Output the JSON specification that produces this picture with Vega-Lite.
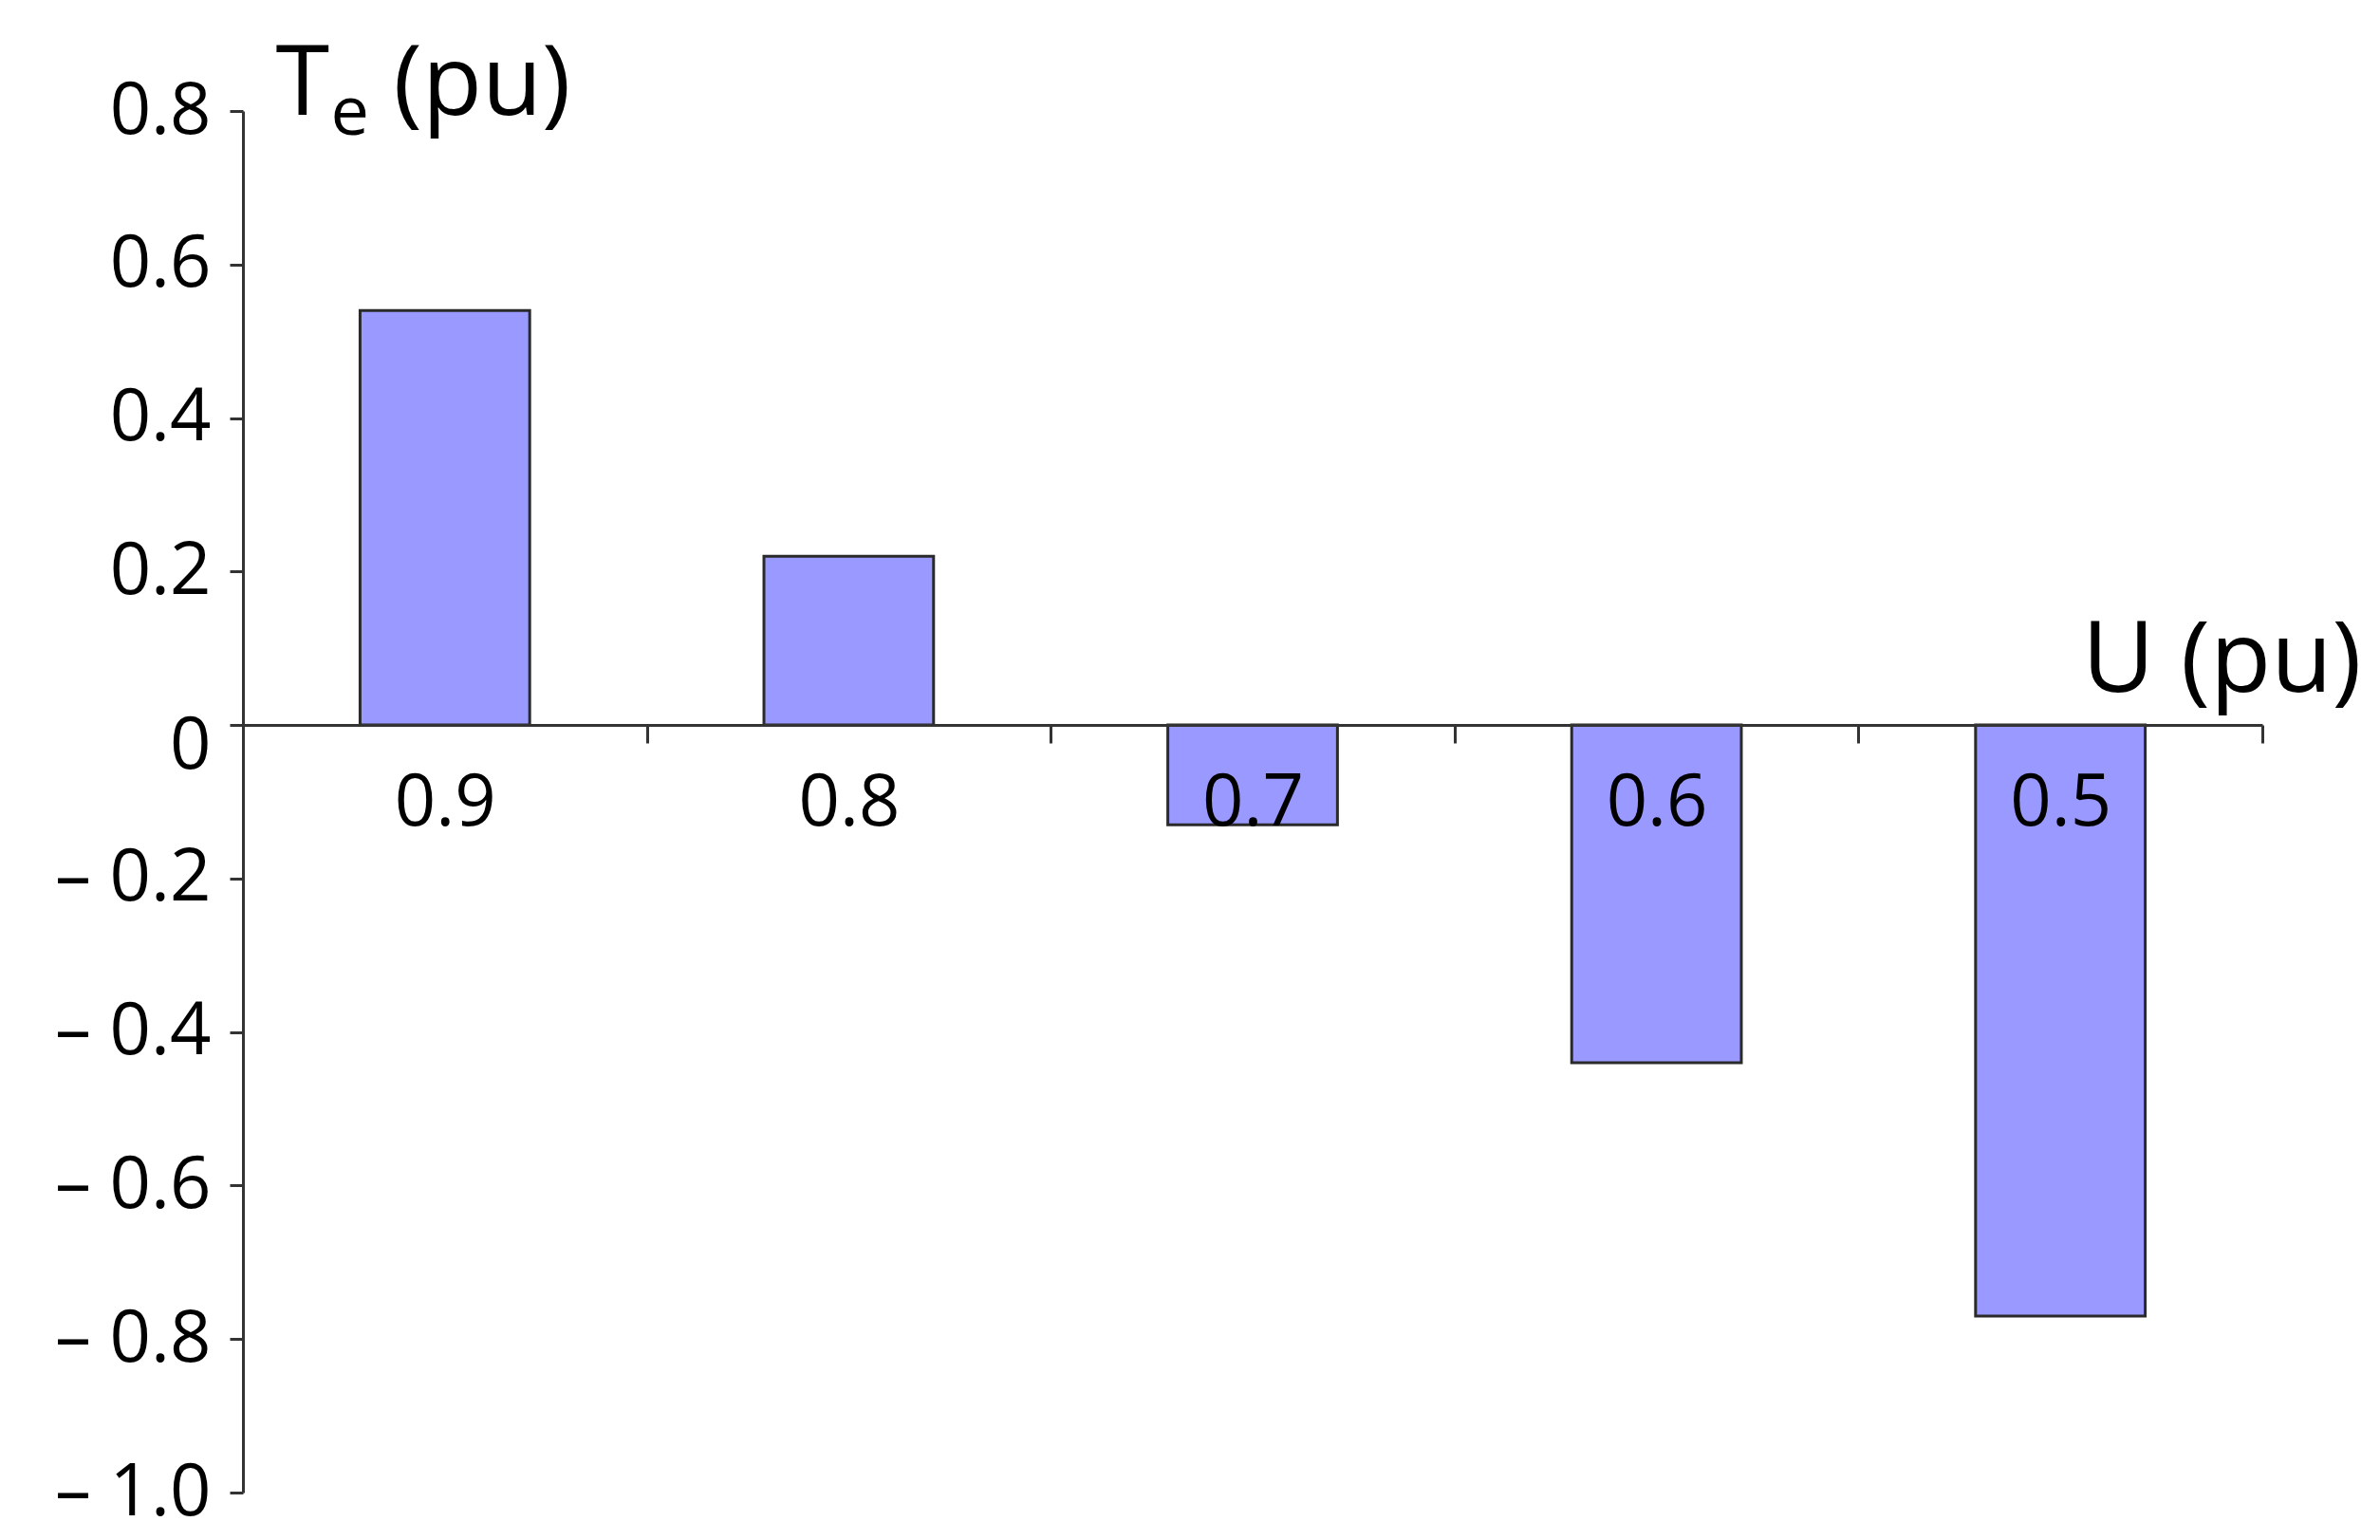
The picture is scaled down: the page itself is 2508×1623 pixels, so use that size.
{
  "$schema": "https://vega.github.io/schema/vega-lite/v6.json",
  "autosize": {"type": "none"},
  "padding": {"left": 256, "top": 117, "right": 124, "bottom": 50},
  "width": 2128,
  "height": 1456,
  "background": "white",
  "config": {"view": {"stroke": null}, "font": "Open Sans"},
  "data": {
    "values": [
      {"U": "0.9", "Te": 0.54},
      {"U": "0.8", "Te": 0.22},
      {"U": "0.7", "Te": -0.13},
      {"U": "0.6", "Te": -0.44},
      {"U": "0.5", "Te": -0.77}
    ]
  },
  "resolve": {"axis": {"x": "independent", "y": "independent"}},
  "layer": [
    {
      "mark": {"type": "bar", "fill": "#9999FF", "stroke": "#2a2a2a", "strokeWidth": 3, "width": {"band": 0.42}},
      "encoding": {
        "x": {
          "field": "U",
          "type": "nominal",
          "sort": ["0.9", "0.8", "0.7", "0.6", "0.5"],
          "scale": {"paddingInner": 0, "paddingOuter": 0},
          "axis": {
            "orient": "bottom",
            "offset": -809,
            "zindex": 1,
            "title": "U (pu)",
            "titleFont": "Open Sans",
            "titleFontSize": 105,
            "titleFontWeight": "normal",
            "titleColor": "black",
            "titleAlign": "right",
            "titleBaseline": "alphabetic",
            "titleAnchor": null,
            "titleX": 2232,
            "titleY": -36,
            "labelAngle": 0,
            "labelFont": "Open Sans",
            "labelFontSize": 76,
            "labelColor": "black",
            "labelPadding": 26,
            "tickBand": "extent",
            "tickSize": 19,
            "tickWidth": 3,
            "tickColor": "#333333",
            "domainColor": "#333333",
            "domainWidth": 3,
            "grid": false
          }
        },
        "y": {
          "field": "Te",
          "type": "quantitative",
          "scale": {"domain": [-1.0, 0.8], "nice": false},
          "axis": {
            "orient": "left",
            "values": [-1.0, -0.8, -0.6, -0.4, -0.2, 0, 0.2, 0.4, 0.6, 0.8],
            "labelExpr": "datum.value == 0 ? '0' : (datum.value < 0 ? '\u2013 ' + format(-datum.value, '.1f') : format(datum.value, '.1f'))",
            "labelOffset": {"condition": {"test": "datum.value == 0", "value": 22}, "value": 0},
            "title": "T",
            "titleFont": "Open Sans",
            "titleFontSize": 103,
            "titleFontWeight": "normal",
            "titleColor": "black",
            "titleAngle": 0,
            "titleAlign": "left",
            "titleBaseline": "alphabetic",
            "titleAnchor": null,
            "titleX": 34,
            "titleY": 3,
            "labelFont": "Open Sans",
            "labelFontSize": 76,
            "labelColor": "black",
            "labelPadding": 20,
            "tickSize": 14,
            "tickWidth": 3,
            "tickColor": "#333333",
            "domainColor": "#333333",
            "domainWidth": 3,
            "grid": false
          }
        }
      }
    },
    {
      "mark": {"type": "bar", "fillOpacity": 0, "strokeOpacity": 0, "width": {"band": 0.42}},
      "encoding": {
        "x": {
          "field": "U",
          "type": "nominal",
          "sort": ["0.9", "0.8", "0.7", "0.6", "0.5"],
          "axis": {
            "orient": "top",
            "domain": false,
            "ticks": false,
            "labels": false,
            "grid": false,
            "title": "e",
            "titleFont": "Open Sans",
            "titleFontSize": 72,
            "titleFontWeight": "normal",
            "titleColor": "black",
            "titleAlign": "left",
            "titleBaseline": "alphabetic",
            "titleAnchor": null,
            "titleX": 92,
            "titleY": 24
          }
        },
        "y": {
          "field": "Te",
          "type": "quantitative",
          "axis": {
            "orient": "right",
            "domain": false,
            "ticks": false,
            "labels": false,
            "grid": false,
            "title": "(pu)",
            "titleFont": "Open Sans",
            "titleFontSize": 103,
            "titleFontWeight": "normal",
            "titleColor": "black",
            "titleAngle": 0,
            "titleAlign": "left",
            "titleBaseline": "alphabetic",
            "titleAnchor": null,
            "titleX": -1970,
            "titleY": 3
          }
        }
      }
    }
  ]
}
